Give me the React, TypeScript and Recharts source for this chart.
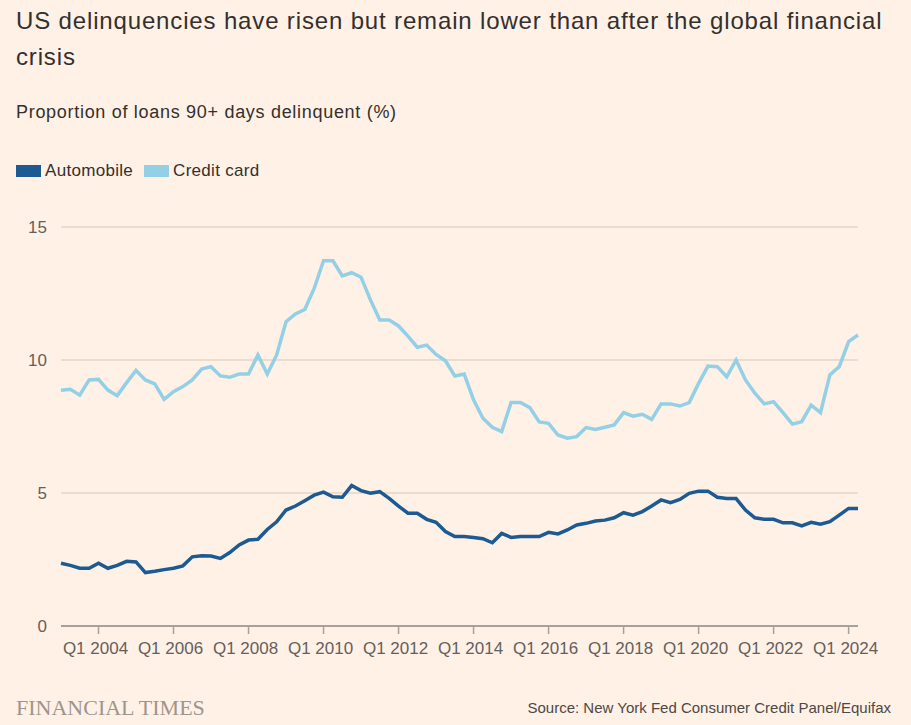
import React from "react";
import { LineChart, Line, XAxis, YAxis, CartesianGrid } from "recharts";

// Quarterly categories: Q1 2003 – Q2 2024
const startYear = 2003;
const endYear = 2024;
const endQuarter = 2;
const quarters: string[] = [];
for (let y = startYear; y <= endYear; y++) {
  for (let q = 1; q <= 4; q++) {
    if (y === endYear && q > endQuarter) break;
    quarters.push(`Q${q} ${y}`);
  }
}

const automobile = [
  2.36, 2.28, 2.17, 2.17, 2.36, 2.17, 2.28, 2.43, 2.41, 2.01,
  2.06, 2.12, 2.17, 2.26, 2.6, 2.64, 2.63, 2.54, 2.76, 3.05,
  3.23, 3.26, 3.63, 3.92, 4.36, 4.51, 4.71, 4.92, 5.03, 4.86,
  4.84, 5.28, 5.09, 4.99, 5.05, 4.8, 4.51, 4.24, 4.24, 4.01,
  3.9, 3.55, 3.36, 3.36, 3.33, 3.28, 3.13, 3.48, 3.33, 3.36,
  3.36, 3.36, 3.52, 3.46, 3.61, 3.8, 3.86, 3.95, 3.98, 4.07,
  4.26, 4.17, 4.3, 4.51, 4.74, 4.64, 4.76, 4.99, 5.07, 5.07,
  4.84, 4.79, 4.79, 4.36, 4.07, 4.01, 4.01, 3.88, 3.88, 3.76,
  3.9, 3.83, 3.92, 4.17, 4.42, 4.42,
];

const creditCard = [
  8.86, 8.9, 8.68, 9.25, 9.27, 8.87, 8.66, 9.15, 9.61, 9.25,
  9.1, 8.52, 8.81, 9.0, 9.25, 9.66, 9.75, 9.4, 9.35, 9.47,
  9.47, 10.19, 9.47, 10.19, 11.44, 11.73, 11.9, 12.69, 13.73, 13.73,
  13.16, 13.28, 13.11, 12.26, 11.5, 11.5, 11.28, 10.9, 10.48, 10.56,
  10.21, 9.97, 9.4, 9.47, 8.5, 7.81, 7.47, 7.31, 8.4, 8.4,
  8.21, 7.67, 7.62, 7.18, 7.06, 7.12, 7.46, 7.39, 7.47, 7.56,
  8.02, 7.89, 7.96, 7.77, 8.35, 8.35, 8.27, 8.4, 9.12, 9.77,
  9.75, 9.37, 10.0, 9.25, 8.75, 8.35, 8.43, 8.02, 7.59, 7.68,
  8.3, 8.02, 9.44, 9.75, 10.69, 10.94,
];

const xTickLabels = [
  "Q1 2004", "Q1 2006", "Q1 2008", "Q1 2010", "Q1 2012", "Q1 2014",
  "Q1 2016", "Q1 2018", "Q1 2020", "Q1 2022", "Q1 2024",
];
const yTicks = [0, 5, 10, 15];

const seriesNames = ["Automobile", "Credit card"];
const AUTO_COLOR = "#1d5a92";
const CARD_COLOR = "#93cfe5";
const seriesColors = [AUTO_COLOR, CARD_COLOR];

const data = quarters.map((quarter, i) => ({
  quarter,
  automobile: automobile[i],
  creditCard: creditCard[i],
}));

const FONT = "'Liberation Sans', Arial, sans-serif";

export default function App() {
  return (
    <div
      style={{
        position: "absolute",
        left: 0,
        top: 0,
        width: 911,
        height: 725,
        background: "#fff1e5",
        overflow: "hidden",
        fontFamily: FONT,
      }}
    >
      <LineChart
        width={911}
        height={725}
        data={data}
        margin={{ top: 227, right: 53, bottom: 69, left: 0 }}
        style={{ position: "absolute", left: 0, top: 0 }}
      >
        <CartesianGrid vertical={false} stroke="#d4c8bd" strokeWidth={1.2} />
        <XAxis
          dataKey="quarter"
          ticks={xTickLabels}
          interval={0}
          height={30}
          axisLine={{ stroke: "#a8a09a", strokeWidth: 2 }}
          tickLine={{ stroke: "#a8a09a", strokeWidth: 1.5 }}
          tickSize={8}
          tickMargin={8}
          tick={{ fill: "#66605c", fontSize: 17, fontFamily: FONT, dx: -3 }}
        />
        <YAxis
          domain={[0, 15]}
          ticks={yTicks}
          width={61}
          axisLine={false}
          tickLine={false}
          tickMargin={8}
          tick={{ fill: "#66605c", fontSize: 17, fontFamily: FONT }}
        />
        <Line
          type="linear"
          dataKey="creditCard"
          stroke={CARD_COLOR}
          strokeWidth={3.5}
          dot={false}
          activeDot={false}
          isAnimationActive={false}
        />
        <Line
          type="linear"
          dataKey="automobile"
          stroke={AUTO_COLOR}
          strokeWidth={3.5}
          dot={false}
          activeDot={false}
          isAnimationActive={false}
        />
      </LineChart>

      <div
        style={{
          position: "absolute",
          left: 16,
          top: 3,
          fontSize: 24,
          letterSpacing: 0.85,
          lineHeight: "36px",
          color: "#33302e",
          whiteSpace: "nowrap",
        }}
      >
        US delinquencies have risen but remain lower than after the global financial
        <br />
        crisis
      </div>
      <div
        style={{
          position: "absolute",
          left: 16,
          top: 102,
          fontSize: 18,
          letterSpacing: 0.7,
          color: "#33302e",
          whiteSpace: "nowrap",
        }}
      >
        Proportion of loans 90+ days delinquent (%)
      </div>

      <div
        style={{
          position: "absolute",
          left: 16,
          top: 161,
          display: "flex",
          alignItems: "center",
          fontSize: 17,
          letterSpacing: 0.3,
          color: "#33302e",
          whiteSpace: "nowrap",
        }}
      >
        {seriesNames.map((name, i) => (
          <div key={name} style={{ display: "flex", alignItems: "center", marginRight: 11 }}>
            <span
              style={{
                display: "inline-block",
                width: 25,
                height: 12,
                background: seriesColors[i],
                marginRight: 4,
              }}
            />
            <span>{name}</span>
          </div>
        ))}
      </div>

      <div
        style={{
          position: "absolute",
          left: 16,
          top: 695,
          fontFamily: "'Liberation Serif', 'DejaVu Serif', serif",
          fontSize: 22,
          color: "#9e958d",
          whiteSpace: "nowrap",
        }}
      >
        FINANCIAL TIMES
      </div>
      <div
        style={{
          position: "absolute",
          right: 20,
          top: 699,
          fontSize: 15,
          color: "#4d4845",
          whiteSpace: "nowrap",
        }}
      >
        Source: New York Fed Consumer Credit Panel/Equifax
      </div>
    </div>
  );
}
